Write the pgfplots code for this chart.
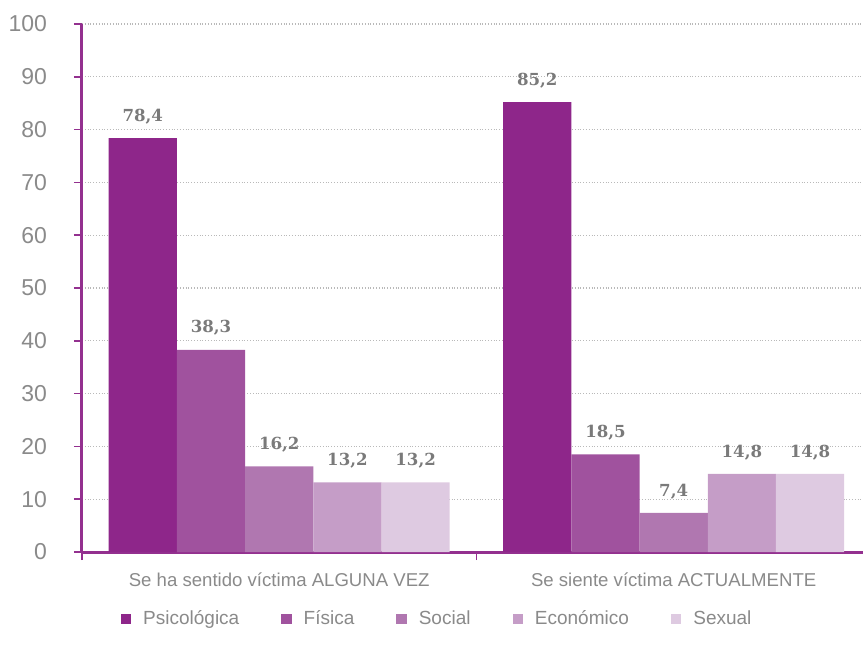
\documentclass[border=0pt]{standalone}
\usepackage{fontspec}
\setmainfont{Liberation Sans}
\newfontfamily\valfont{DejaVu Serif}
\usepackage{pgfplots}
\pgfplotsset{compat=1.18}

\definecolor{cPsi}{HTML}{8E268A}
\definecolor{cFis}{HTML}{A0529E}
\definecolor{cSoc}{HTML}{B077B0}
\definecolor{cEco}{HTML}{C59DC7}
\definecolor{cSex}{HTML}{DECAE1}
\definecolor{axisclr}{HTML}{93308F}
\definecolor{txtgray}{HTML}{8A8A8A}
\definecolor{valgray}{HTML}{7A7A7A}

\begin{document}
\begin{tikzpicture}
\begin{axis}[
    scale only axis,
    width=390.5pt, height=264pt,
    ybar=0pt, bar width=34.1pt,
    xmin=-0.5, xmax=1.48,
    ymin=0, ymax=100,
    ytick={0,10,...,100},
    xtick={-0.5,0.5},
    xticklabels={},
    extra x ticks={0,1},
    extra x tick labels={Se ha sentido víctima ALGUNA VEZ, Se siente víctima ACTUALMENTE},
    extra x tick style={major tick length=0pt},
    axis lines*=left,
    axis line style={draw=axisclr, line width=1.5pt},
    tick style={draw=axisclr, line width=0.8pt},
    tick align=outside,
    major tick length=4pt,
    ymajorgrids,
    grid style={densely dotted, gray!55, line width=0.6pt},
    yticklabel style={font=\fontsize{11.5}{13}\selectfont, text=txtgray, xshift=-10pt},
    xticklabel style={font=\fontsize{9.3}{11}\selectfont, text=txtgray, yshift=-7pt},
    /pgf/number format/assume math mode=true,
    nodes near coords,
    nodes near coords style={font=\valfont\bfseries\fontsize{8.3}{10}\selectfont, text=valgray, yshift=3.5pt,
        /pgf/number format/.cd, use comma, fixed, fixed zerofill, precision=1},
    legend style={at={(0.456,-0.127)}, anchor=center, draw=none, legend columns=-1,
        font=\fontsize{9.5}{11}\selectfont, text=txtgray,
        /tikz/every odd column/.append style={column sep=4pt},
        /tikz/every even column/.append style={column sep=19pt}},
    legend image code/.code={\fill[#1] (0pt,-2.6pt) rectangle (5.2pt,2.6pt);},
    clip=false,
]
\addplot[fill=cPsi, draw=none] coordinates {(0,78.4) (1,85.2)};
\addplot[fill=cFis, draw=none] coordinates {(0,38.3) (1,18.5)};
\addplot[fill=cSoc, draw=none] coordinates {(0,16.2) (1,7.4)};
\addplot[fill=cEco, draw=none] coordinates {(0,13.2) (1,14.8)};
\addplot[fill=cSex, draw=none] coordinates {(0,13.2) (1,14.8)};
\legend{Psicológica, Física, Social, Económico, Sexual}
\end{axis}
\pgfresetboundingbox
\path[use as bounding box] ([xshift=-41pt,yshift=-53.5pt]current axis.south west) rectangle ([yshift=12pt]current axis.north east);
\end{tikzpicture}
\end{document}
